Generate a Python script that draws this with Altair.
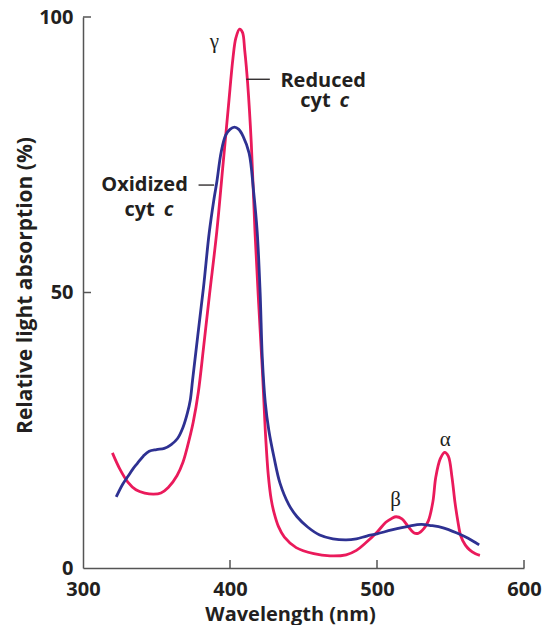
import altair as alt
import pandas as pd

# Reduced cytochrome c (red curve): wavelength nm, relative absorption %
red_nm = [320, 325, 330.5, 336, 342, 348, 353, 358, 364, 368, 371, 375, 378.5, 382, 386, 391,
          395, 399, 402, 404, 406.5, 408.5, 410, 412, 414.5, 417, 419.5, 422, 424, 426, 428,
          430, 433, 437, 445, 457, 468, 479, 486, 492, 500, 506, 510, 513, 517, 521, 525, 528,
          532, 535, 538, 540, 543, 546, 548.5, 551, 553, 555, 557, 560, 563, 567, 570]
red_val = [20.9, 18.0, 15.6, 14.2, 13.6, 13.4, 13.6, 14.6, 16.8, 19.2, 22.0, 26.5, 32, 40, 49.5, 61,
           72.5, 84, 92.5, 96.2, 97.8, 97.2, 94, 88, 77, 61, 48, 36, 25, 17, 12.5,
           10, 7.5, 5.6, 3.7, 2.6, 2.2, 2.4, 3.2, 4.5, 6.5, 8.3, 9.0, 9.3, 8.9, 7.6, 6.4, 6.3,
           7.2, 8.6, 12, 16.5, 19.8, 21.0, 20.3, 16.5, 12, 8.5, 5.8, 4.2, 3.3, 2.6, 2.3]

# Oxidized cytochrome c (blue curve)
blue_nm = [322.6, 327, 330.5, 334, 337, 341, 345, 350, 355.3, 360, 364.3, 368, 371, 373, 374.5,
           378, 382, 385.8, 389, 391, 394, 397, 400, 403, 406, 409, 413, 416, 418.5, 420.5, 422,
           424, 426.4, 430, 434, 440, 445.6, 453, 461, 470, 479, 486, 493, 500, 510, 522, 530,
           537, 545, 554, 562, 569.5]
blue_val = [12.9, 15.2, 16.6, 18.0, 19.0, 20.3, 21.2, 21.5, 21.7, 22.4, 23.5, 25.5, 28.1, 30.5, 34,
            42, 51, 60.7, 66.8, 70, 75.5, 78.5, 79.6, 80, 79.6, 78.3, 75.3, 68.5, 61, 50, 38,
            30, 25, 20, 15.4, 11.5, 9.3, 7.4, 6.0, 5.3, 5.1, 5.3, 5.8, 6.2, 6.9, 7.6, 7.9,
            7.7, 7.3, 6.4, 5.4, 4.2]

x_ticks = [400, 500, 600]
y_ticks = [50, 100]

# annotations (data units)
label_text = ["Reduced", "cyt", "Oxidized", "cyt"]
label_nm = [434.3, 447.8, 312.4, 328.2]
label_val = [87.3, 83.6, 68.4, 63.9]
italic_text = ["c", "c"]
italic_nm = [474.5, 355.0]
italic_val = [83.6, 63.9]
greek_text = ["γ", "β", "α"]
greek_nm = [389.4, 512.6, 546.4]
greek_val = [95.5, 12.3, 23.2]
leader_nm = [411.1, 378.6]
leader_nm2 = [427.1, 389.2]
leader_val = [88.7, 69.5]

RED = "#ea1a5b"
BLUE = "#2e3192"
TXT = "#231f20"
FONT = "Open Sans"

curves = pd.concat([
    pd.DataFrame({"nm": red_nm, "val": red_val, "form": "Reduced"}),
    pd.DataFrame({"nm": blue_nm, "val": blue_val, "form": "Oxidized"}),
])

xs = alt.Scale(domain=[300, 600], nice=False)
ys = alt.Scale(domain=[0, 100], nice=False)

x_enc = alt.X("nm:Q", scale=xs, axis=alt.Axis(
    title="Wavelength (nm)", values=[300, 400, 500, 600], format="d", ticks=False,
    grid=False, labelFlush=False, domainColor="#555555", domainWidth=1.5, labelFont=FONT,
    labelFontSize=20, labelFontWeight="bold", labelColor=TXT, labelPadding=11, titleFont=FONT,
    titleFontSize=20, titleFontWeight="bold", titleColor=TXT, titleBaseline="alphabetic",
    titleX=207, titleY=52))
y_enc = alt.Y("val:Q", scale=ys, axis=alt.Axis(
    title="Relative light absorption (%)", values=[0, 50, 100], ticks=False, grid=False,
    labelFlush=False, domainColor="#555555", domainWidth=1.5, labelFont=FONT, labelFontSize=20,
    labelFontWeight="bold", labelColor=TXT, labelPadding=10, titleFont=FONT,
    titleFontSize=21, titleFontWeight="bold", titleColor=TXT, titleBaseline="middle",
    titleAlign="center", titleAngle=270, titleX=-58, titleY=268))

lines = alt.Chart(curves).mark_line(strokeWidth=2.8, interpolate="catmull-rom").encode(
    x=x_enc, y=y_enc, detail="form:N",
    color=alt.Color("form:N", scale=alt.Scale(domain=["Reduced", "Oxidized"], range=[RED, BLUE]),
                    legend=None))

xt = alt.Chart(pd.DataFrame({"nm": x_ticks})).mark_rule(color="#555555", strokeWidth=1.5).encode(
    x=alt.X("nm:Q", scale=xs), y=alt.value(551), y2=alt.value(543))
yt = alt.Chart(pd.DataFrame({"val": y_ticks})).mark_rule(color="#555555", strokeWidth=1.5).encode(
    y=alt.Y("val:Q", scale=ys), x=alt.value(0), x2=alt.value(8))

leaders = alt.Chart(pd.DataFrame({"nm": leader_nm, "nm2": leader_nm2, "val": leader_val})).mark_rule(
    color=TXT, strokeWidth=1.3).encode(x=alt.X("nm:Q", scale=xs), x2="nm2:Q", y=alt.Y("val:Q", scale=ys))

labels = alt.Chart(pd.DataFrame({"t": label_text, "nm": label_nm, "val": label_val})).mark_text(
    align="left", baseline="alphabetic", font=FONT, fontSize=20, fontWeight="bold", color=TXT).encode(
    x=alt.X("nm:Q", scale=xs), y=alt.Y("val:Q", scale=ys), text="t:N")
italics = alt.Chart(pd.DataFrame({"t": italic_text, "nm": italic_nm, "val": italic_val})).mark_text(
    align="left", baseline="alphabetic", font=FONT, fontSize=20, fontWeight="bold", fontStyle="italic",
    color=TXT).encode(x=alt.X("nm:Q", scale=xs), y=alt.Y("val:Q", scale=ys), text="t:N")
greeks = alt.Chart(pd.DataFrame({"t": greek_text, "nm": greek_nm, "val": greek_val})).mark_text(
    align="center", baseline="middle", font="Liberation Serif", fontSize=21, color=TXT).encode(
    x=alt.X("nm:Q", scale=xs), y=alt.Y("val:Q", scale=ys), text="t:N")

chart = alt.layer(lines, xt, yt, leaders, labels, italics, greeks).properties(
    width=441, height=551, autosize=alt.AutoSizeParams(type="none"),
    padding={"left": 75, "top": 9, "right": 18, "bottom": 57}
).configure_view(stroke=None)

chart.save("out.html", embed_options={"renderer": "svg", "actions": False})
